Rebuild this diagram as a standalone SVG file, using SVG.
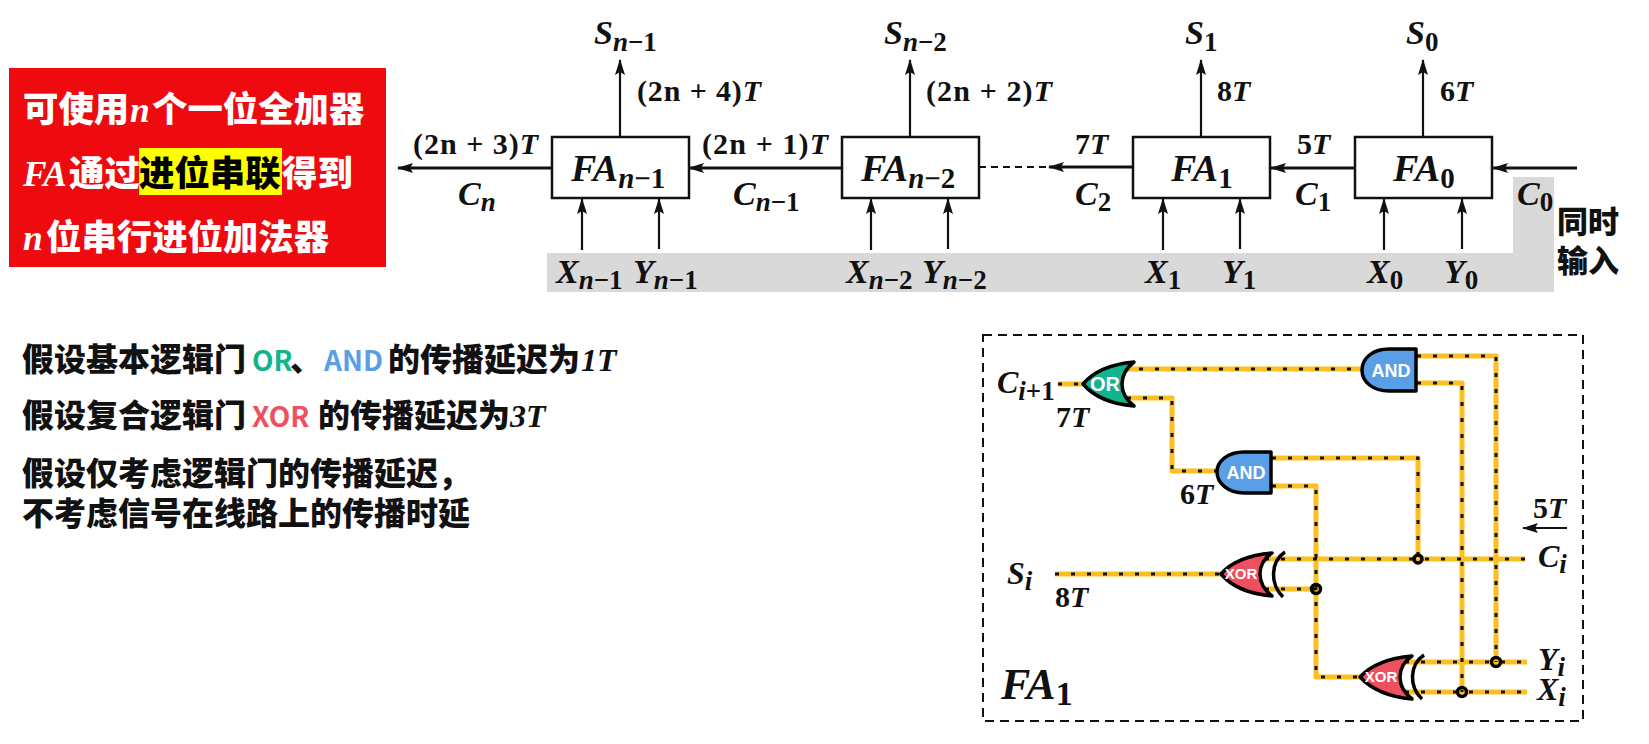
<svg xmlns="http://www.w3.org/2000/svg" xmlns:xlink="http://www.w3.org/1999/xlink" width="1649" height="744" viewBox="0 0 1649 744">
<style>
text{font-family:"Liberation Serif","Noto Sans CJK SC",serif;font-weight:700;fill:#111}
.m{font-style:italic;font-size:34px}
.s{font-style:italic;font-size:27px}
.u{font-style:normal}
.t{font-size:30px}
.i{font-style:italic}
.sf{font-family:"Liberation Serif",serif}
.c{font-family:"Noto Sans CJK SC","Noto Sans",sans-serif;font-size:32px;font-weight:900}
.l{font-size:28px;font-weight:700}
.r{font-size:35.4px;fill:#fff}
.rk{fill:#000}
.box{fill:#fff;stroke:#111;stroke-width:2.5}
.ln{fill:none;stroke:#111;stroke-width:2.2}
.lt{fill:none;stroke:#111;stroke-width:3}
.wy{fill:none;stroke:#fcc01e;stroke-width:5;stroke-linejoin:round}
.wk{fill:none;stroke:#111;stroke-width:3;stroke-dasharray:4 12}
.g{stroke:#000;stroke-width:3.5;stroke-linejoin:round}
.gt{font-family:"Liberation Sans",sans-serif;fill:#fff;text-anchor:middle;font-weight:700}
.arc{fill:none;stroke:#000;stroke-width:3.5}
.dot{fill:none;stroke:#000;stroke-width:3.5}
</style>
<defs>
<marker id="a" viewBox="0 0 16 10" refX="15" refY="5" markerUnits="userSpaceOnUse" markerWidth="16" markerHeight="11" orient="auto"><path d="M0 0L16 5L0 10L3 5Z" fill="#111"/></marker>
<path id="wires" d="M1058 384H1084M1123 369H1362M1127 398H1172V471H1217M1272 458H1418V559M1272 486H1316V677H1360M1417 356H1496V662M1417 383H1462V692M1055 574H1221M1265 559H1525M1265 589H1316M1405 662H1527M1405 692H1527"/>
</defs>
<rect x="547" y="253" width="1007" height="39" fill="#d9d9d9"/>
<rect x="1513" y="177" width="41" height="80" fill="#d9d9d9"/>
<g id="note-red">
<rect x="9" y="68" width="377" height="199" fill="#ee0a0f"/>
<rect x="139" y="148" width="143" height="47" fill="#ff0"/>
<text class="c r" x="23" y="122">可使用<tspan class="i sf" x="130">n</tspan><tspan x="152">个一位全加器</tspan></text>
<text class="c r" x="23" y="186"><tspan class="i sf">FA</tspan><tspan x="69">通过</tspan><tspan x="139" class="rk">进位串联</tspan><tspan x="282">得到</tspan></text>
<text class="c r" x="23" y="250"><tspan class="i sf">n</tspan><tspan x="46">位串行进位加法器</tspan></text>
</g>
<g id="connectors-top">
<path class="lt" marker-end="url(#a)" d="M552 168H398"/>
<path class="lt" marker-end="url(#a)" d="M842 168H689"/>
<path class="ln" stroke-dasharray="7 5" d="M979 167H1050"/>
<path class="lt" marker-end="url(#a)" d="M1133 167H1049"/>
<path class="lt" marker-end="url(#a)" d="M1355 168H1271"/>
<path class="lt" marker-end="url(#a)" d="M1577 168H1493"/>
<path class="ln" marker-end="url(#a)" d="M620 137V60"/>
<path class="ln" marker-end="url(#a)" d="M910 137V60"/>
<path class="ln" marker-end="url(#a)" d="M1201 137V60"/>
<path class="ln" marker-end="url(#a)" d="M1423 137V60"/>
<path class="ln" marker-end="url(#a)" d="M582 250V199"/>
<path class="ln" marker-end="url(#a)" d="M659 249V199"/>
<path class="ln" marker-end="url(#a)" d="M871 250V199"/>
<path class="ln" marker-end="url(#a)" d="M948 249V199"/>
<path class="ln" marker-end="url(#a)" d="M1163 250V199"/>
<path class="ln" marker-end="url(#a)" d="M1240 249V199"/>
<path class="ln" marker-end="url(#a)" d="M1384 250V199"/>
<path class="ln" marker-end="url(#a)" d="M1462 249V199"/>
</g>
<g id="fa-n-1"><rect class="box" x="552" y="137" width="137" height="61"/><text class="m" style="font-size:38px" x="571" y="181">FA<tspan class="s" style="font-size:29px" dy="7">n<tspan class="u">−1</tspan></tspan></text></g>
<g id="fa-n-2"><rect class="box" x="842" y="137" width="137" height="61"/><text class="m" style="font-size:38px" x="861" y="181">FA<tspan class="s" style="font-size:29px" dy="7">n<tspan class="u">−2</tspan></tspan></text></g>
<g id="fa-1"><rect class="box" x="1133" y="137" width="137" height="61"/><text class="m" style="font-size:38px" x="1171" y="181">FA<tspan class="s u" style="font-size:29px" dy="7">1</tspan></text></g>
<g id="fa-0"><rect class="box" x="1355" y="137" width="137" height="61"/><text class="m" style="font-size:38px" x="1393" y="181">FA<tspan class="s u" style="font-size:29px" dy="7">0</tspan></text></g>
<g id="labels-top">
<text class="m" x="594" y="44">S<tspan class="s" dy="7">n<tspan class="u">−1</tspan></tspan></text>
<text class="m" x="884" y="44">S<tspan class="s" dy="7">n<tspan class="u">−2</tspan></tspan></text>
<text class="m" x="1185" y="44">S<tspan class="s u" dy="7">1</tspan></text>
<text class="m" x="1406" y="44">S<tspan class="s u" dy="7">0</tspan></text>
<text class="t" x="637" y="101" textLength="124">(2n + 4)<tspan class="i">T</tspan></text>
<text class="t" x="926" y="101" textLength="126">(2n + 2)<tspan class="i">T</tspan></text>
<text class="t" x="1217" y="101">8<tspan class="i">T</tspan></text>
<text class="t" x="1440" y="101">6<tspan class="i">T</tspan></text>
<text class="t" x="413" y="154" textLength="125">(2n + 3)<tspan class="i">T</tspan></text>
<text class="t" x="702" y="154" textLength="126">(2n + 1)<tspan class="i">T</tspan></text>
<text class="t" x="1075" y="154">7<tspan class="i">T</tspan></text>
<text class="t" x="1297" y="154">5<tspan class="i">T</tspan></text>
<text class="m" x="458" y="205">C<tspan class="s" dy="6">n</tspan></text>
<text class="m" x="733" y="205">C<tspan class="s" dy="6">n<tspan class="u">−1</tspan></tspan></text>
<text class="m" x="1075" y="205">C<tspan class="s u" dy="6">2</tspan></text>
<text class="m" x="1295" y="205">C<tspan class="s u" dy="6">1</tspan></text>
<text class="m" x="1517" y="205">C<tspan class="s u" dy="6">0</tspan></text>
<text class="m" x="556" y="283">X<tspan class="s" dy="6">n<tspan class="u">−1</tspan></tspan></text>
<text class="m" x="633" y="283">Y<tspan class="s" dy="6">n<tspan class="u">−1</tspan></tspan></text>
<text class="m" x="846" y="283">X<tspan class="s" dy="6">n<tspan class="u">−2</tspan></tspan></text>
<text class="m" x="922" y="283">Y<tspan class="s" dy="6">n<tspan class="u">−2</tspan></tspan></text>
<text class="m" x="1145" y="283">X<tspan class="s u" dy="6">1</tspan></text>
<text class="m" x="1222" y="283">Y<tspan class="s u" dy="6">1</tspan></text>
<text class="m" x="1367" y="283">X<tspan class="s u" dy="6">0</tspan></text>
<text class="m" x="1444" y="283">Y<tspan class="s u" dy="6">0</tspan></text>
<text class="c" style="font-size:31px" x="1557" y="233">同时</text>
<text class="c" style="font-size:31px" x="1557" y="272">输入</text>
</g>
<g id="notes">
<text class="c" x="22" y="371">假设基本逻辑门<tspan x="252" class="l" style="fill:#12b48e">OR</tspan><tspan x="290">、</tspan><tspan x="324" class="l" style="fill:#5a9ee6">AND</tspan><tspan x="388">的传播延迟为</tspan><tspan x="581" class="i sf">1T</tspan></text>
<text class="c" x="22" y="427">假设复合逻辑门<tspan x="252" class="l" style="fill:#ef5060">XOR</tspan><tspan x="318">的传播延迟为</tspan><tspan x="510" class="i sf">3T</tspan></text>
<text class="c" x="22" y="485">假设仅考虑逻辑门的传播延迟，</text>
<text class="c" x="22" y="525">不考虑信号在线路上的传播时延</text>
</g>
<g id="fa-detail">
<rect x="983" y="335" width="600" height="386" fill="none" stroke="#111" stroke-width="2" stroke-dasharray="9 6"/>
<g id="circuit-wires"><use xlink:href="#wires" class="wy"/><use xlink:href="#wires" class="wk"/></g>
<g id="or"><path class="g" fill="#12b48e" d="M1134 362C1112 364 1094 371 1083 384C1094 397 1112 404 1134 406C1125 399 1122 391 1122 384C1122 377 1125 369 1134 362Z"/><text class="gt" style="font-size:20px" x="1105" y="391">OR</text></g>
<g id="and-1"><path class="g" fill="#5a9ee6" d="M1416 349V391H1389C1373 391 1362 382 1362 370C1362 358 1373 349 1389 349Z"/><text class="gt" style="font-size:18px" x="1391" y="377">AND</text></g>
<g id="and-2"><path class="g" fill="#5a9ee6" d="M1271 452V493H1244C1228 493 1217 483 1217 472C1217 461 1228 452 1244 452Z"/><text class="gt" style="font-size:18px" x="1246" y="479">AND</text></g>
<g id="xor-1"><path class="g" fill="#ef5060" d="M1272 553C1250 555 1232 561 1221 574C1232 587 1250 594 1272 596C1263 589 1260 581 1260 574C1260 567 1263 559 1272 553Z"/><path class="arc" d="M1285 552C1270 562 1270 584 1283 597"/><text class="gt" style="font-size:15px" x="1241" y="579">XOR</text></g>
<g id="xor-2"><path class="g" fill="#ef5060" d="M1412 656C1390 658 1372 664 1360 677C1372 690 1390 697 1412 699C1403 692 1400 684 1400 677C1400 670 1403 662 1412 656Z"/><path class="arc" d="M1424 655C1409 665 1409 687 1422 699"/><text class="gt" style="font-size:15px" x="1381" y="682">XOR</text></g>
<g id="junctions"><circle class="dot" cx="1418" cy="559" r="4"/><circle class="dot" cx="1316" cy="589" r="4.5"/><circle class="dot" cx="1496" cy="662" r="4.5"/><circle class="dot" cx="1462" cy="692" r="4.5"/></g>
<path class="ln" marker-end="url(#a)" d="M1567 528H1523"/>
<text class="m" style="font-size:32px" x="997" y="393">C<tspan class="s" dy="7">i<tspan class="u">+1</tspan></tspan></text>
<text class="t" x="1056" y="427">7<tspan class="i">T</tspan></text>
<text class="t" x="1180" y="504">6<tspan class="i">T</tspan></text>
<text class="t" x="1533" y="518">5<tspan class="i">T</tspan></text>
<text class="t" x="1055" y="607">8<tspan class="i">T</tspan></text>
<text class="m" style="font-size:32px" x="1007" y="584">S<tspan class="s" dy="6">i</tspan></text>
<text class="m" style="font-size:32px" x="1538" y="567">C<tspan class="s" dy="6">i</tspan></text>
<text class="m" style="font-size:32px" x="1538" y="670">Y<tspan class="s" dy="6">i</tspan></text>
<text class="m" style="font-size:32px" x="1537" y="700">X<tspan class="s" dy="6">i</tspan></text>
<text class="m" style="font-size:44px" x="1001" y="699">FA<tspan class="s u" style="font-size:34px" dy="6">1</tspan></text>
</g>
</svg>
